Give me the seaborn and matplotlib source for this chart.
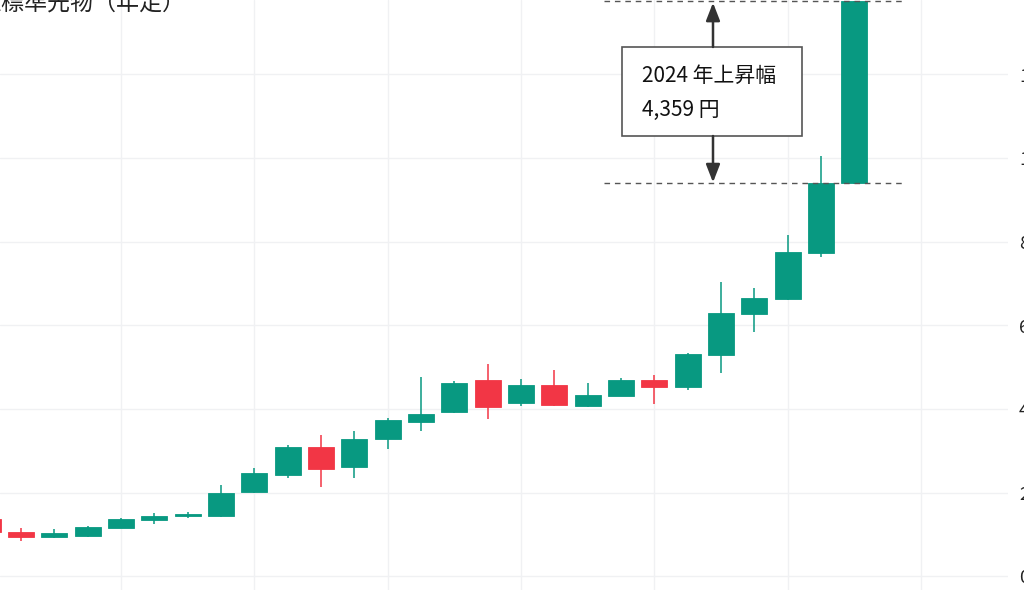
import numpy as np
import matplotlib
matplotlib.use("Agg")
import matplotlib.pyplot as plt
from matplotlib.patches import Rectangle
import seaborn as sns

# 金標準先物 年足 (yen per gram)
years = list(range(1998, 2025))
opens = [1380, 1054, 935, 958, 1149, 1340, 1435, 1435, 2007, 2413, 3080, 2603, 3271,
         3700, 3938, 4701, 4153, 4582, 4081, 4320, 4701, 4534, 5298, 6275, 6633, 7729, 9398]
closes = [1054, 935, 1030, 1173, 1364, 1435, 1483, 1984, 2460, 3080, 2556, 3271, 3724,
          3891, 4630, 4058, 4582, 4105, 4344, 4701, 4534, 5321, 6299, 6657, 7753, 9398, 13757]
highs = [1420, 1149, 1125, 1197, 1387, 1507, 1530, 2174, 2580, 3128, 3366, 3461, 3795,
         4773, 4661, 5083, 4725, 4940, 4630, 4749, 4821, 5345, 7038, 6895, 8158, 10042, 13757]
lows = [1000, 846, 923, 935, 1149, 1245, 1387, 1411, 1984, 2341, 2127, 2341, 3032,
        3461, 3898, 3748, 4081, 4081, 4058, 4320, 4129, 4463, 4868, 5846, 6609, 7634, 9374]
y_ticks = [0, 2000, 4000, 6000, 8000, 10000, 12000]
x_grid = [2002, 2006, 2010, 2014, 2018, 2022, 2026]

title = "金標準先物（年足）"
note_line1 = "2024 年上昇幅"

up_color = "#089981"
down_color = "#F23645"

sns.set_theme(style="white")
plt.rcParams['font.family'] = ['Noto Sans CJK JP', 'DejaVu Sans']

fig = plt.figure(figsize=(10.24, 5.9), dpi=100)
ax = fig.add_axes([0, 0, 1008 / 1024, 1])

o = np.array(opens)
c = np.array(closes)
colors = [up_color if cc >= oo else down_color for oo, cc in zip(o, c)]

ax.vlines(years, lows, highs, colors=colors, lw=1.1, zorder=3)
ax.bar(years, np.abs(c - o), bottom=np.minimum(o, c), width=0.78,
       color=colors, edgecolor=colors, lw=0.6, zorder=4)

ax.set_xlim(1998.37, 2028.61)
ax.set_ylim(-330, 13781)

ax.set_yticks(y_ticks)
ax.set_yticklabels([f"{v:,}" for v in y_ticks])
ax.set_xticks(x_grid)
ax.set_xticklabels([])
ax.yaxis.tick_right()
ax.tick_params(axis="y", length=0, pad=8, labelsize=13, labelcolor="#222222")
ax.tick_params(axis="x", length=0)
ax.grid(True, color="#f0f1f3", lw=1)
for s in ax.spines.values():
    s.set_visible(False)

# 2024 rise annotation
last_open = opens[-1]
last_close = closes[-1]
rise = last_close - last_open
ax.hlines([last_open, last_close], 2016.5, 2025.43, colors="#555555",
          linestyles=(0, (4, 3.5)), lw=1.0, zorder=5)

box_left, box_right = 2017.03, 2022.43
box_top, box_bottom = 12657, 10528
ax.add_patch(Rectangle((box_left, box_bottom), box_right - box_left, box_top - box_bottom,
                       facecolor="white", edgecolor="#555555", lw=1.2, zorder=6))
arrow_x = 2019.76
arrow_kw = dict(arrowstyle="-|>,head_length=0.9,head_width=0.35", color="#333333",
                lw=1.8, shrinkA=0, shrinkB=0)
ax.annotate("", xy=(arrow_x, last_close - 40), xytext=(arrow_x, box_top),
            arrowprops=arrow_kw, zorder=6)
ax.annotate("", xy=(arrow_x, last_open + 20), xytext=(arrow_x, box_bottom),
            arrowprops=arrow_kw, zorder=6)
ax.text(2017.63, 11963, note_line1, fontsize=15, color="#111111",
        va="center", ha="left", zorder=7)
ax.text(2017.63, 11150, f"{rise:,} 円", fontsize=15, color="#111111",
        va="center", ha="left", zorder=7)

fig.text(-22 / 1024, 1 - 10.5 / 590, title, fontsize=16.6, color="#222222",
         va="baseline", ha="left")

fig.savefig("out.png", dpi=100)
